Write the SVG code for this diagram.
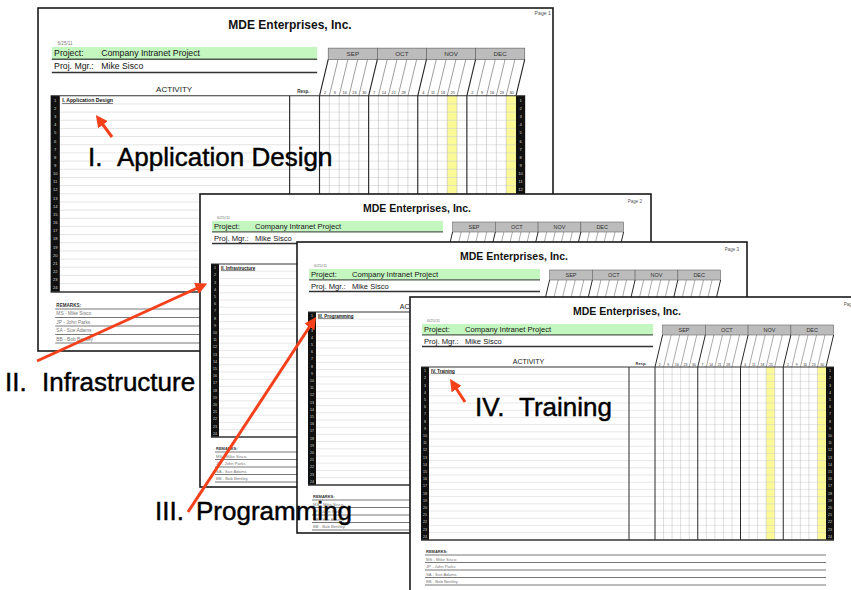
<svg xmlns="http://www.w3.org/2000/svg" xmlns:xlink="http://www.w3.org/1999/xlink" width="851" height="590" viewBox="0 0 851 590">
<style>
text{font-family:"Liberation Sans",Arial,sans-serif}
.pg{fill:#fff;stroke:#1a1a1a;stroke-width:1.6}
.ttl{font-size:10.5px;font-weight:bold;fill:#111;text-anchor:middle}
.pn{font-size:4.5px;fill:#555;text-anchor:end}
.hd{font-size:7.6px;fill:#151515}
.dt{font-size:4px;fill:#777}
.mo{font-size:5.5px;fill:#333;text-anchor:middle}
.wk{font-size:3.4px;fill:#333;text-anchor:middle}
.num{font-size:3.6px;fill:#d8d8d8;text-anchor:middle}
.act{font-size:4.5px;font-weight:bold;fill:#111;text-decoration:underline}
.rm{font-size:4.2px;fill:#777}
.dark{stroke:#2a2a2a;stroke-width:1;fill:none}
.lite{stroke:#cfcfcf;stroke-width:0.5;fill:none}
.big{font-size:26px;fill:#000;stroke:#000;stroke-width:0.45}
.arr{stroke:#f4411b;stroke-width:3;fill:none;marker-end:url(#ah)}
</style>
<defs>
<marker id="ah" viewBox="0 0 10 10" refX="7" refY="5" markerWidth="4" markerHeight="4" orient="auto">
<path d="M0,0 L10,5 L0,10 z" fill="#f4411b"/>
</marker>
<g id="nums">
<text class="num" y="75.2">1</text><text class="num" y="82.4">2</text><text class="num" y="89.6">3</text><text class="num" y="96.8">4</text>
<text class="num" y="104">5</text><text class="num" y="111.2">6</text><text class="num" y="118.4">7</text><text class="num" y="125.6">8</text>
<text class="num" y="132.8">9</text><text class="num" y="140">10</text><text class="num" y="147.2">11</text><text class="num" y="154.4">12</text>
<text class="num" y="161.6">13</text><text class="num" y="168.8">14</text><text class="num" y="176">15</text><text class="num" y="183.2">16</text>
<text class="num" y="190.4">17</text><text class="num" y="197.6">18</text><text class="num" y="204.8">19</text><text class="num" y="212">20</text>
<text class="num" y="219.2">21</text><text class="num" y="226.4">22</text><text class="num" y="233.6">23</text><text class="num" y="240.8">24</text>
</g>
<g id="tpl">
<text class="dt" x="17" y="25">6/25/11</text>
<rect x="12" y="27" width="231" height="10.5" fill="#c4f6bf"/>
<line x1="12" y1="37.8" x2="243" y2="37.8" stroke="#4a5a4a" stroke-width="1.2"/>
<text class="hd" x="14" y="35">Project:</text>
<text class="hd" x="55" y="35">Company Intranet Project</text>
<text class="hd" x="14" y="46.5">Proj. Mgr.:</text>
<text class="hd" x="55" y="46.5">Mike Sisco</text>
<line x1="12" y1="49.5" x2="243" y2="49.5" stroke="#333" stroke-width="1.3"/>
<g fill="#bcbcbc" stroke="#666" stroke-width="0.6">
<rect x="252.6" y="28" width="42.75" height="10"/>
<rect x="295.35" y="28" width="42.75" height="10"/>
<rect x="338.1" y="28" width="42.75" height="10"/>
<rect x="380.85" y="28" width="42.75" height="10"/>
</g>
<text class="mo" x="274" y="35">SEP</text>
<text class="mo" x="316.7" y="35">OCT</text>
<text class="mo" x="359.5" y="35">NOV</text>
<text class="mo" x="402.2" y="35">DEC</text>
<path class="lite" style="stroke:#555;stroke-width:0.5" d="M253.55 70L261.15 38M262.1 70L269.7 38M270.65 70L278.25 38M279.2 70L286.8 38M296.3 70L303.9 38M304.85 70L312.45 38M313.4 70L321 38M321.95 70L329.55 38M339.05 70L346.65 38M347.6 70L355.2 38M356.15 70L363.75 38M364.7 70L372.3 38M381.8 70L389.4 38M390.35 70L397.95 38M398.9 70L406.5 38M407.45 70L415.05 38"/>
<path class="dark" d="M245 70L252.6 38M287.75 70L295.35 38M330.5 70L338.1 38M373.25 70L380.85 38M416 70L423.6 38"/>
<g class="wk">
<text x="249.8" y="68.8">2</text><text x="258.3" y="68.8">9</text><text x="266.9" y="68.8">16</text><text x="275.4" y="68.8">23</text><text x="284" y="68.8">30</text>
<text x="292.5" y="68.8">7</text><text x="301.1" y="68.8">14</text><text x="309.6" y="68.8">21</text><text x="318.2" y="68.8">28</text>
<text x="335.3" y="68.8">4</text><text x="343.8" y="68.8">11</text><text x="352.4" y="68.8">18</text><text x="360.9" y="68.8">25</text>
<text x="378" y="68.8">2</text><text x="386.6" y="68.8">9</text><text x="395.1" y="68.8">16</text><text x="403.7" y="68.8">23</text><text x="412.2" y="68.8">30</text>
</g>
<text x="118.5" y="66.5" style="font-size:7px;fill:#222;text-anchor:middle">ACTIVITY</text>
<text x="231" y="67.5" style="font-size:4px;font-weight:bold;fill:#333;text-anchor:middle">Resp.</text>
<rect x="356.15" y="70" width="8.55" height="173" fill="#fbfa96"/>
<rect x="407.45" y="70" width="8.55" height="173" fill="#fbfa96"/>
<path class="lite" d="M19 77.2H416M19 84.4H416M19 91.6H416M19 98.8H416M19 106H416M19 113.2H416M19 120.4H416M19 127.6H416M19 134.8H416M19 142H416M19 149.2H416M19 156.4H416M19 163.6H416M19 170.8H416M19 178H416M19 185.2H416M19 192.4H416M19 199.6H416M19 206.8H416M19 214H416M19 221.2H416M19 228.4H416M19 235.6H416"/>
<path class="lite" style="stroke:#bbb" d="M253.55 70V243M262.1 70V243M270.65 70V243M279.2 70V243M296.3 70V243M304.85 70V243M313.4 70V243M321.95 70V243M339.05 70V243M347.6 70V243M356.15 70V243M364.7 70V243M381.8 70V243M390.35 70V243M398.9 70V243M407.45 70V243"/>
<path class="dark" d="M219 70V243M245 70V243M287.75 70V243M330.5 70V243M373.25 70V243"/>
<rect x="11" y="70" width="8" height="173" fill="#111"/>
<rect x="416" y="70" width="8" height="173" fill="#111"/>
<use xlink:href="#nums" href="#nums" x="15"/>
<use xlink:href="#nums" href="#nums" x="420"/>
<line x1="11" y1="70" x2="424" y2="70" stroke="#333" stroke-width="1"/>
<line x1="11" y1="243" x2="424" y2="243" stroke="#333" stroke-width="1.3"/>
<text x="16" y="256" style="font-size:4px;font-weight:bold;fill:#333">REMARKS:</text>
<path d="M15 258H416M15 265.5H416M15 273H416M15 280.5H416M15 288H416" stroke="#777" stroke-width="1" fill="none"/>
<text class="rm" x="16" y="263.5">MS - Mike Sisco</text>
<text class="rm" x="16" y="271">JP - John Parks</text>
<text class="rm" x="16" y="278.5">SA - Sue Adams</text>
<text class="rm" x="16" y="286">BB - Bob Bentley</text>
</g>
</defs>

<g id="page1">
<rect class="pg" x="38" y="8" width="515" height="343"/>
<text class="ttl" x="290" y="28.5" style="font-size:12px">MDE Enterprises, Inc.</text>
<text class="pn" x="551" y="15" style="font-size:5.2px">Page 1</text>
<g transform="translate(38 16.4) scale(1.149 1.134)">
<use xlink:href="#tpl" href="#tpl"/>
<text class="act" x="21" y="75.5">I. Application Design</text>
</g>
</g>

<g id="page2" transform="translate(200 194)">
<rect class="pg" x="0" y="0" width="451" height="293"/>
<text class="ttl" x="217" y="17.5">MDE Enterprises, Inc.</text>
<text class="pn" x="442" y="8.5">Page 2</text>
<use xlink:href="#tpl" href="#tpl"/>
<text class="act" x="21" y="75.5">II. Infrastructure</text>
</g>

<g id="page3" transform="translate(297 242)">
<rect class="pg" x="0" y="0" width="450" height="291"/>
<text class="ttl" x="217" y="17.5">MDE Enterprises, Inc.</text>
<text class="pn" x="442" y="8.5">Page 3</text>
<use xlink:href="#tpl" href="#tpl"/>
<text class="act" x="21" y="75.5">III. Programming</text>
</g>

<g id="page4" transform="translate(410 297)">
<rect class="pg" x="0" y="0" width="460" height="300"/>
<text class="ttl" x="217" y="17.5">MDE Enterprises, Inc.</text>
<text class="pn" x="448" y="8.5">Page 4</text>
<use xlink:href="#tpl" href="#tpl"/>
<text class="act" x="21" y="75.5">IV. Training</text>
</g>

<g id="connectors">
<line class="arr" x1="112" y1="137" x2="98" y2="118"/>
<line class="arr" x1="37" y1="361" x2="204" y2="285"/>
<line class="arr" x1="188" y1="512" x2="314" y2="320"/>
<line class="arr" x1="465" y1="402" x2="452" y2="382"/>
</g>

<g id="labels">
<text class="big" y="166"><tspan x="88">I.</tspan><tspan x="117">Application Design</tspan></text>
<text class="big" y="391"><tspan x="5">II.</tspan><tspan x="42">Infrastructure</tspan></text>
<text class="big" y="520"><tspan x="155">III.</tspan><tspan x="196">Programming</tspan></text>
<text class="big" y="416"><tspan x="475">IV.</tspan><tspan x="519">Training</tspan></text>
</g>
</svg>
